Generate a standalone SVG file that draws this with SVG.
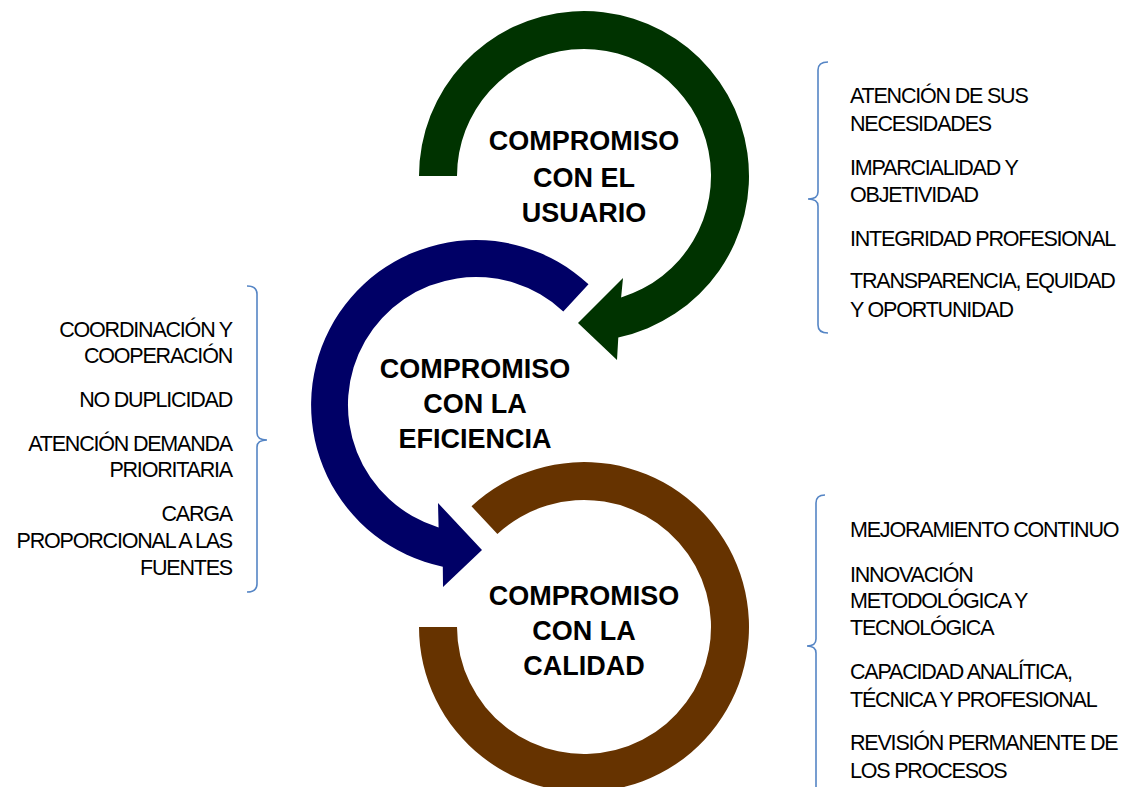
<svg xmlns="http://www.w3.org/2000/svg" width="1127" height="787" viewBox="0 0 1127 787">
<style>
.title{font-family:"Liberation Sans",Arial,sans-serif;font-weight:bold;font-size:27px;text-anchor:middle;fill:#000}
.item{font-family:"Liberation Sans",Arial,sans-serif;font-size:21.5px;letter-spacing:-1.2px;fill:#000}
.r{text-anchor:end}
.brace{fill:none;stroke:#5585c5;stroke-width:1.6}
</style>
<rect width="1127" height="787" fill="#fff"/>
<g id="calidad">
<path d="M419,627 A165,165 0 1 0 471.5,506.3 L497.4,534.1 A127,127 0 1 1 457,627 Z" fill="#663300"/>
<text class="title" x="584" y="605">COMPROMISO</text>
<text class="title" x="584" y="640">CON LA</text>
<text class="title" x="584" y="675">CALIDAD</text>
</g>
<g id="eficiencia">
<path d="M588.5,284.3 A165,165 0 1 0 442.8,566.7 L443,587 L482,550 L438,503 L438.6,527.4 A128,128 0 1 1 563.3,311.4 Z" fill="#000066"/>
<text class="title" x="475" y="378">COMPROMISO</text>
<text class="title" x="475" y="413">CON LA</text>
<text class="title" x="475" y="448">EFICIENCIA</text>
</g>
<g id="usuario">
<path d="M419,176 A165,165 0 1 1 618.3,337.4 L617,360 L578,323 L623,278 L621.1,297.4 A127,127 0 1 0 457,176 Z" fill="#003300"/>
<text class="title" x="584" y="150">COMPROMISO</text>
<text class="title" x="584" y="187">CON EL</text>
<text class="title" x="584" y="222">USUARIO</text>
</g>
<g id="connectors">
<path class="brace" d="M828,62 Q818,62 818,70 L818,192 Q818,199 808,199 Q818,199 818,206 L818,325 Q818,333 828,333"/>
<path class="brace" d="M247,286 Q257,286 257,294 L257,433 Q257,440 267,440 Q257,440 257,447 L257,584 Q257,592 247,592"/>
<path class="brace" d="M825,495 Q816,495 816,503 L816,639 Q816,646 807,646 Q816,646 816,653 L816,790"/>
</g>
<g id="usuario-items">
<text class="item" x="850" y="103">ATENCIÓN DE SUS</text>
<text class="item" x="850" y="131">NECESIDADES</text>
<text class="item" x="850" y="175">IMPARCIALIDAD Y</text>
<text class="item" x="850" y="202">OBJETIVIDAD</text>
<text class="item" x="850" y="246">INTEGRIDAD PROFESIONAL</text>
<text class="item" x="850" y="288">TRANSPARENCIA, EQUIDAD</text>
<text class="item" x="850" y="317">Y OPORTUNIDAD</text>
</g>
<g id="eficiencia-items">
<text class="item r" x="232" y="337">COORDINACIÓN Y</text>
<text class="item r" x="232" y="363">COOPERACIÓN</text>
<text class="item r" x="232" y="407">NO DUPLICIDAD</text>
<text class="item r" x="232" y="451">ATENCIÓN DEMANDA</text>
<text class="item r" x="232" y="477">PRIORITARIA</text>
<text class="item r" x="232" y="521">CARGA</text>
<text class="item r" x="232" y="548">PROPORCIONAL A LAS</text>
<text class="item r" x="232" y="575">FUENTES</text>
</g>
<g id="calidad-items">
<text class="item" x="850" y="537">MEJORAMIENTO CONTINUO</text>
<text class="item" x="850" y="582">INNOVACIÓN</text>
<text class="item" x="850" y="608">METODOLÓGICA Y</text>
<text class="item" x="850" y="635">TECNOLÓGICA</text>
<text class="item" x="850" y="679">CAPACIDAD ANALÍTICA,</text>
<text class="item" x="850" y="707">TÉCNICA Y PROFESIONAL</text>
<text class="item" x="850" y="750">REVISIÓN PERMANENTE DE</text>
<text class="item" x="850" y="778">LOS PROCESOS</text>
</g>
</svg>
